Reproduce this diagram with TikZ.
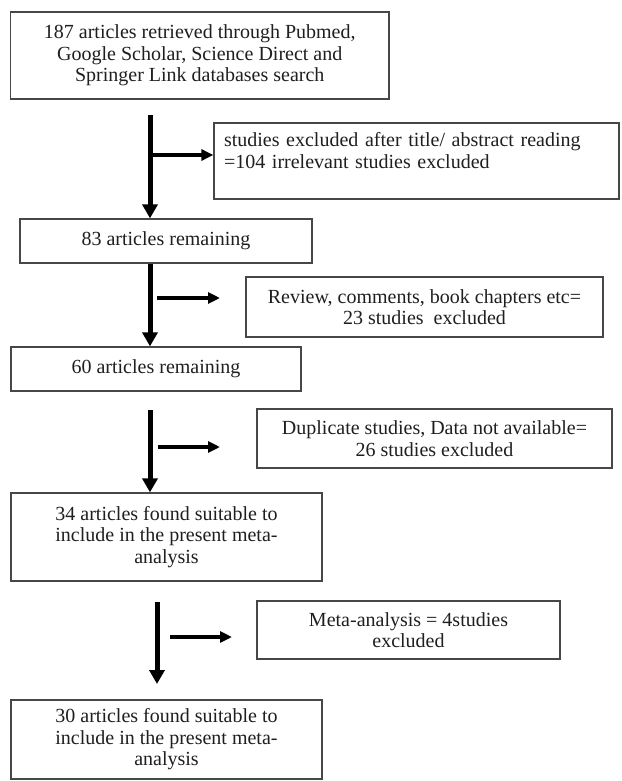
\documentclass[tikz,border=0pt]{standalone}
\usepackage{fontspec}
\setmainfont{Liberation Serif}
\usetikzlibrary{arrows.meta}
\begin{document}
\begin{tikzpicture}[x=1pt,y=-1pt,
  box/.style={draw=black!72, line width=1.3pt, inner sep=0pt, align=center,
    font=\fontsize{20}{21.5}\selectfont, text=black!88},
  vflow/.style={line width=5pt, -{Triangle[length=14pt,width=15pt]}},
  hflow/.style={line width=3.5pt, -{Triangle[length=12pt,width=11pt]}}]
\useasboundingbox (0,0) rectangle (621,781);
\fill[white] (0,0) rectangle (621,781);

\node[box, minimum width=378.5pt, minimum height=87pt] (b1) at (199.75,55.5)
  {187 articles retrieved through Pubmed,\\Google Scholar, Science Direct and\\Springer Link databases search};
\node[box, minimum width=405pt, minimum height=76pt, align=left, text width=385pt] (b2) at (416.5,161)
  {studies excluded after title/ abstract reading\\=104 irrelevant studies excluded\\\mbox{}};
\node[box, minimum width=292pt, minimum height=44pt] (b3) at (166,241) {83 articles remaining};
\node[box, minimum width=357pt, minimum height=60pt] (b4) at (424.5,307)
  {Review, comments, book chapters etc=\\23 studies\ \ excluded};
\node[box, minimum width=290pt, minimum height=44pt] (b5) at (156,369) {60 articles remaining};
\node[box, minimum width=355pt, minimum height=59pt] (b6) at (434.5,438.5)
  {Duplicate studies, Data not available=\\26 studies excluded};
\node[box, minimum width=311pt, minimum height=88pt] (b7) at (166.5,537)
  {34 articles found suitable to\\include in the present meta-\\analysis};
\node[box, minimum width=303pt, minimum height=58pt] (b8) at (408.5,630)
  {Meta-analysis = 4studies\\excluded};
\node[box, minimum width=311pt, minimum height=79pt] (b9) at (166.5,739.5)
  {30 articles found suitable to\\include in the present meta-\\analysis};

% flow 1
\coordinate (s1) at (150,115);
\coordinate (j1) at (150,155);
\draw[vflow] (s1) -- (s1 |- b3.north);
\draw[hflow] (j1) -- (j1 -| b2.west);
% flow 2
\coordinate (s2) at (150,263);
\coordinate (j2) at (157,298);
\coordinate (e2) at (220,298);
\draw[vflow] (s2 |- b3.south) -- (s2 |- b5.north);
\draw[hflow] (j2) -- (e2);
% flow 3
\coordinate (s3) at (150,410);
\coordinate (j3) at (158,447);
\coordinate (e3) at (220,447);
\draw[vflow] (s3) -- (s3 |- b7.north);
\draw[hflow] (j3) -- (e3);
% flow 4
\coordinate (s4) at (157,602);
\coordinate (t4) at (157,684);
\coordinate (j4) at (170,637);
\coordinate (e4) at (232,637);
\draw[vflow] (s4) -- (t4);
\draw[hflow] (j4) -- (e4);
\end{tikzpicture}
\end{document}
